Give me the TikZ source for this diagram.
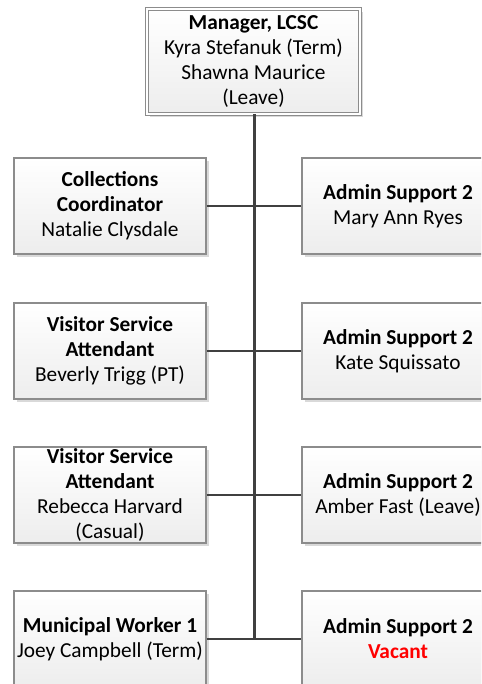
\documentclass[tikz,border=0pt]{standalone}
\usepackage{fontspec}
\setmainfont{Carlito}
\usetikzlibrary{shadows}
\definecolor{boxborder}{HTML}{8C8C8C}
\definecolor{linec}{HTML}{404040}
\definecolor{fillbot}{HTML}{EDEDED}
\definecolor{vacred}{HTML}{FF0000}
\begin{document}
\begin{tikzpicture}[x=0.75pt,y=-0.75pt,
  every node/.style={font=\fontsize{16}{18.8}\selectfont, align=center},
  orgbox/.style={draw=boxborder, line width=0.8pt, top color=white, bottom color=fillbot,
    minimum width=144pt, minimum height=72pt, inner sep=0pt,
    general shadow={fill=black!15, shadow xshift=2pt, shadow yshift=-2pt}},
  mgrbox/.style={draw=boxborder, line width=0.6pt, double=white, double distance=1.8pt,
    top color=white, bottom color=fillbot,
    minimum width=159.8pt, minimum height=78.8pt, inner sep=0pt,
    general shadow={fill=black!15, shadow xshift=2.5pt, shadow yshift=-2.5pt}},
  vline/.style={draw=linec, line width=2.2pt},
  hline/.style={draw=linec, line width=1.5pt}]
\useasboundingbox (0,0) rectangle (481,684);
\clip (0,0) rectangle (481,684);
\node[mgrbox] (mgr) at (253.5,61.5) {\textbf{Manager, LCSC}\\Kyra Stefanuk (Term)\\Shawna Maurice\\(Leave)};
\node[orgbox] (l1) at (110,206) {\textbf{Collections}\\\textbf{Coordinator}\\Natalie Clysdale};
\node[orgbox] (r1) at (398,206) {\textbf{Admin Support 2}\\Mary Ann Ryes};
\node[orgbox] (l2) at (110,351) {\textbf{Visitor Service}\\\textbf{Attendant}\\Beverly Trigg (PT)};
\node[orgbox] (r2) at (398,351) {\textbf{Admin Support 2}\\Kate Squissato};
\node[orgbox] (l3) at (110,495) {\textbf{Visitor Service}\\\textbf{Attendant}\\Rebecca Harvard\\(Casual)};
\node[orgbox] (r3) at (398,495) {\textbf{Admin Support 2}\\Amber Fast (Leave)};
\node[orgbox] (l4) at (110,639) {\textbf{Municipal Worker 1}\\Joey Campbell (Term)};
\node[orgbox] (r4) at (398,639) {\textbf{Admin Support 2}\\\textcolor{vacred}{\textbf{Vacant}}};
\draw[vline] ([xshift=0.4pt]mgr.south) -- ([xshift=0.4pt]mgr.south |- l4.east);
\draw[hline] (l1.east) -- (r1.west);
\draw[hline] (l2.east) -- (r2.west);
\draw[hline] (l3.east) -- (r3.west);
\draw[hline] (l4.east) -- (r4.west);
\end{tikzpicture}
\end{document}
